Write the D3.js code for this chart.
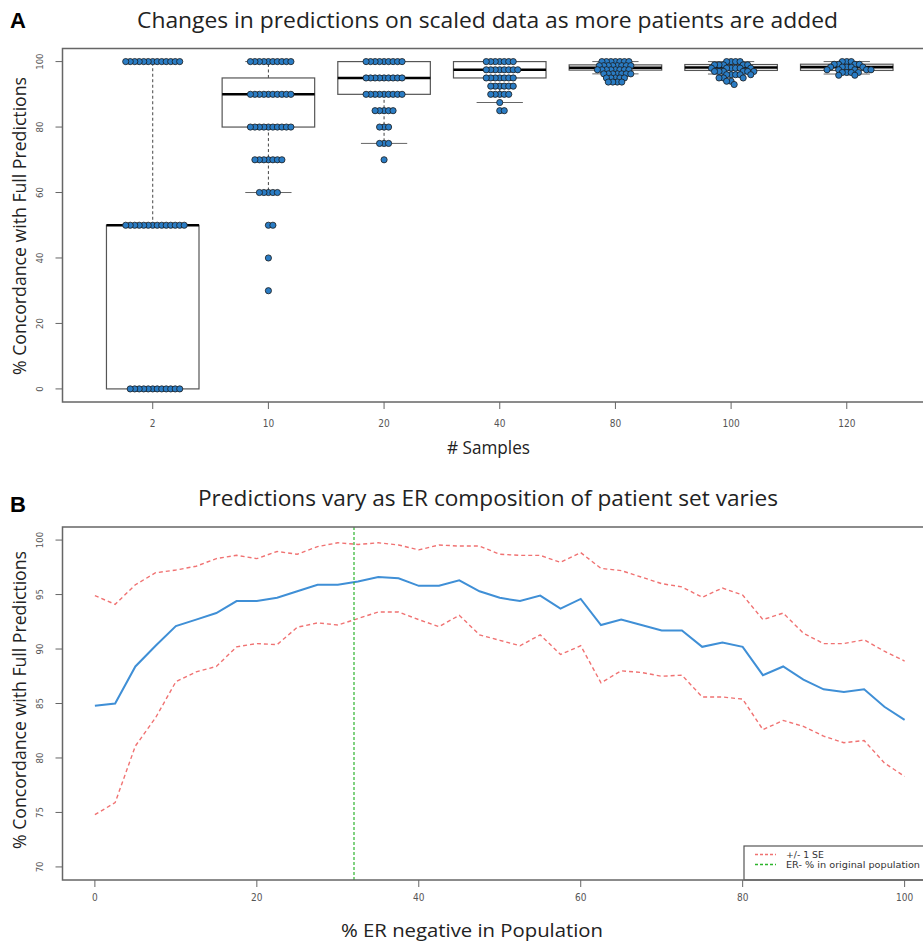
<!DOCTYPE html>
<html><head><meta charset="utf-8">
<script src="https://cdn.jsdelivr.net/npm/d3@7"></script>
<style>body{margin:0;background:#fff} svg{display:block}</style>
</head><body>
<svg id="c" width="923" height="941"></svg>
<script>
// ---------------- Panel A data ----------------
const sampleGroups = ["2","10","20","40","80","100","120"];
const boxLow    = [0, 60, 75, 87.5, 96.25, 96.2, 96.2];
const boxQ1     = [0, 80, 90, 95, 97.4, 97.3, 97.3];
const boxMedian = [50, 90, 95, 97.5, 98.1, 98.2, 98.3];
const boxQ3     = [50, 95, 100, 100, 99.0, 99.1, 99.2];
const boxHigh   = [100, 100, 100, 100, 100, 100, 100];
const dotValues = [
  [100, 50, 0],
  [100, 90, 80, 70, 60, 50, 40, 30],
  [100, 95, 90, 85, 80, 75, 70],
  [100, 97.5, 95, 92.5, 90, 87.5, 85],
  [100, 98.75, 97.5, 96.25, 95, 93.75],
  [100, 99, 98, 97, 96, 95, 94, 93],
  [100, 99.17, 98.33, 97.5, 96.67, 95.83]
];
const dotCounts = [
  [13, 14, 12],
  [10, 10, 10, 7, 5, 2, 1, 1],
  [9, 9, 9, 5, 3, 3, 1],
  [7, 8, 7, 6, 5, 1, 2],
  [7, 8, 8, 7, 5, 4],
  [4, 5, 6, 6, 5, 3, 2, 1],
  [3, 4, 5, 5, 4, 2]
];
const yTicksA = [0, 20, 40, 60, 80, 100];

// ---------------- Panel B data ----------------
const erNegative = [0,2.5,5,7.5,10,12.5,15,17.5,20,22.5,25,27.5,30,32.5,35,37.5,40,42.5,45,47.5,50,
  52.5,55,57.5,60,62.5,65,67.5,70,72.5,75,77.5,80,82.5,85,87.5,90,92.5,95,97.5,100];
const meanConc = [84.8,85.0,88.4,90.3,92.1,92.7,93.3,94.4,94.4,94.7,95.3,95.9,95.9,96.2,96.6,96.5,95.8,95.8,96.3,95.3,94.7,
  94.4,94.9,93.7,94.6,92.2,92.7,92.2,91.7,91.7,90.2,90.6,90.2,87.6,88.4,87.2,86.3,86.05,86.3,84.7,83.5];
const upperSE = [94.9,94.1,95.9,97.0,97.25,97.6,98.3,98.6,98.3,98.95,98.7,99.4,99.75,99.6,99.75,99.55,99.1,99.55,99.45,99.45,98.7,
  98.6,98.6,97.95,98.85,97.4,97.2,96.6,96.0,95.7,94.75,95.6,94.95,92.7,93.3,91.45,90.5,90.5,90.85,89.8,88.9];
const lowerSE = [74.8,75.9,81.1,83.7,87.0,87.9,88.4,90.2,90.5,90.4,92.0,92.4,92.2,92.8,93.4,93.4,92.7,92.05,93.1,91.3,90.8,
  90.3,91.3,89.5,90.3,86.9,88.0,87.85,87.5,87.6,85.6,85.6,85.4,82.6,83.45,82.9,82.0,81.4,81.6,79.55,78.3];
const erOriginal = 32;
const xTicksB = [0, 20, 40, 60, 80, 100];
const yTicksB = [70, 75, 80, 85, 90, 95, 100];
const legendLabels = ["+/- 1 SE", "ER- % in original population"];

// ---------------- drawing ----------------
const svg = d3.select("#c");
const titleFont = "'Open Sans', 'Noto Sans', sans-serif";
const tickFont = "'Liberation Sans Narrow', 'DejaVu Sans Condensed', 'Liberation Sans', sans-serif";
const frameColor = "#666";
const L = 62.5, R = 937;

function label(g, x, y, txt, size, len, rot) {
  const t = g.append("text")
    .attr("transform", rot ? `translate(${x},${y}) rotate(-90)` : `translate(${x},${y})`)
    .attr("text-anchor", "middle").attr("font-family", titleFont).attr("font-size", size)
    .attr("fill", "#222").text(txt);
  if (len) t.attr("textLength", len).attr("lengthAdjust", "spacingAndGlyphs");
  return t;
}

// ===== Panel A =====
const topA = 48.5, botA = 402;
const xA = d3.scalePoint().domain(sampleGroups).range([L, R]).padding(0.78);
const yA = d3.scaleLinear().domain([-4, 104]).range([botA, topA]);
const step = xA.step();
const bw = step * 0.8;

const gA = svg.append("g");
gA.append("text").attr("x", 10).attr("y", 28).text("A")
  .attr("font-family", "'Liberation Sans', Arial, sans-serif").attr("font-weight", "bold").attr("font-size", 22);
label(gA, 487.5, 28, "Changes in predictions on scaled data as more patients are added", 22, 701, false);

sampleGroups.forEach((g, i) => {
  const cx = xA(g);
  const grp = gA.append("g");
  if (boxHigh[i] > boxQ3[i]) grp.append("line").attr("x1", cx).attr("x2", cx)
    .attr("y1", yA(boxQ3[i])).attr("y2", yA(boxHigh[i])).attr("stroke", "#444").attr("stroke-dasharray", "3,2.5");
  if (boxLow[i] < boxQ1[i]) grp.append("line").attr("x1", cx).attr("x2", cx)
    .attr("y1", yA(boxQ1[i])).attr("y2", yA(boxLow[i])).attr("stroke", "#444").attr("stroke-dasharray", "3,2.5");
  [boxLow[i], boxHigh[i]].forEach(v => grp.append("line")
    .attr("x1", cx - bw / 4).attr("x2", cx + bw / 4).attr("y1", yA(v)).attr("y2", yA(v))
    .attr("stroke", "#666").attr("stroke-width", 1));
  grp.append("rect").attr("x", cx - bw / 2).attr("width", bw)
    .attr("y", yA(boxQ3[i])).attr("height", yA(boxQ1[i]) - yA(boxQ3[i]))
    .attr("fill", "#fff").attr("stroke", "#555").attr("stroke-width", 1.2);
  grp.append("line").attr("x1", cx - bw / 2).attr("x2", cx + bw / 2)
    .attr("y1", yA(boxMedian[i])).attr("y2", yA(boxMedian[i]))
    .attr("stroke", "#000").attr("stroke-width", 2.6);
});

function swarm(pts, d) {
  const placed = [];
  pts.forEach(p => {
    const cands = [0];
    placed.forEach(q => {
      const dy = p.py - q.py;
      if (Math.abs(dy) < d) { const dx = Math.sqrt(d * d - dy * dy); cands.push(q.dx + dx, q.dx - dx); }
    });
    cands.sort((a, b) => Math.abs(a) - Math.abs(b));
    for (const c of cands) {
      const ok = placed.every(q => (q.dx - c) ** 2 + (q.py - p.py) ** 2 >= d * d - 1e-6);
      if (ok) { p.dx = c; break; }
    }
    placed.push(p);
  });
  return placed;
}
sampleGroups.forEach((g, i) => {
  const pts = [];
  dotValues[i].forEach((v, j) => { for (let k = 0; k < dotCounts[i][j]; k++) pts.push({ v, py: yA(v) }); });
  pts.sort((a, b) => b.v - a.v);
  swarm(pts, 4.5);
  gA.append("g").selectAll("circle").data(pts).join("circle")
    .attr("cx", d => xA(g) + d.dx).attr("cy", d => d.py).attr("r", 3.1)
    .attr("fill", "#2a7cc4").attr("stroke", "#1b1b1b").attr("stroke-width", 0.8);
});

gA.append("rect").attr("x", L).attr("y", topA).attr("width", R - L).attr("height", botA - topA)
  .attr("fill", "none").attr("stroke", frameColor).attr("stroke-width", 1.5);
const yAx = gA.append("g");
yAx.selectAll("line").data(yTicksA).join("line")
  .attr("x1", L - 7).attr("x2", L).attr("y1", d => yA(d)).attr("y2", d => yA(d)).attr("stroke", frameColor);
yAx.selectAll("text").data(yTicksA).join("text")
  .attr("transform", d => `translate(43,${yA(d)}) rotate(-90)`).attr("text-anchor", "middle")
  .attr("font-family", tickFont).attr("font-size", 9.5).attr("fill", "#555").text(d => d);
const xAx = gA.append("g");
xAx.selectAll("line").data(sampleGroups).join("line")
  .attr("x1", d => xA(d)).attr("x2", d => xA(d)).attr("y1", botA).attr("y2", botA + 7).attr("stroke", frameColor);
xAx.selectAll("text").data(sampleGroups).join("text")
  .attr("x", d => xA(d)).attr("y", 427).attr("text-anchor", "middle")
  .attr("font-family", tickFont).attr("font-size", 10).attr("fill", "#555").text(d => d);
label(gA, 488.5, 454, "# Samples", 18, 83, false);
label(gA, 26, 226, "% Concordance with Full Predictions", 18, 298, true);

// ===== Panel B =====
const topB = 527, botB = 880;
const xB = d3.scaleLinear().domain([-4, 104]).range([L, R]);
const yB = d3.scaleLinear().domain([68.8, 101.2]).range([botB, topB]);
const gB = svg.append("g");
gB.append("text").attr("x", 10).attr("y", 512).text("B")
  .attr("font-family", "'Liberation Sans', Arial, sans-serif").attr("font-weight", "bold").attr("font-size", 22);
label(gB, 488, 506, "Predictions vary as ER composition of patient set varies", 22, 580, false);

const line = d3.line().x((d, i) => xB(erNegative[i])).y(d => yB(d));
gB.append("path").datum(upperSE).attr("d", line).attr("fill", "none")
  .attr("stroke", "#f07272").attr("stroke-width", 1.4).attr("stroke-dasharray", "4,3");
gB.append("path").datum(lowerSE).attr("d", line).attr("fill", "none")
  .attr("stroke", "#f07272").attr("stroke-width", 1.4).attr("stroke-dasharray", "4,3");
gB.append("path").datum(meanConc).attr("d", line).attr("fill", "none")
  .attr("stroke", "#3f8fd6").attr("stroke-width", 2);
gB.append("line").attr("x1", xB(erOriginal)).attr("x2", xB(erOriginal)).attr("y1", topB).attr("y2", botB)
  .attr("stroke", "#2cb52c").attr("stroke-width", 1.2).attr("stroke-dasharray", "3,2");

const lg = gB.append("g");
lg.append("rect").attr("x", 744).attr("y", 846).attr("width", 200).attr("height", botB - 846)
  .attr("fill", "#fff").attr("stroke", "#555").attr("stroke-width", 1.2);
const legColors = ["#f07272", "#2cb52c"];
legendLabels.forEach((t, i) => {
  const y = 854.5 + i * 10;
  lg.append("line").attr("x1", 755).attr("x2", 776).attr("y1", y).attr("y2", y)
    .attr("stroke", legColors[i]).attr("stroke-width", 1.3).attr("stroke-dasharray", "3,2");
  const tx = lg.append("text").attr("x", 786).attr("y", y + 3.3).attr("font-family", "'DejaVu Sans', sans-serif")
    .attr("font-size", 9.3).attr("fill", "#333").text(t);
  if (t.length > 20) tx.attr("textLength", 134).attr("lengthAdjust", "spacingAndGlyphs");
});

gB.append("rect").attr("x", L).attr("y", topB).attr("width", R - L).attr("height", botB - topB)
  .attr("fill", "none").attr("stroke", frameColor).attr("stroke-width", 1.5);
const yBx = gB.append("g");
yBx.selectAll("line").data(yTicksB).join("line")
  .attr("x1", L - 7).attr("x2", L).attr("y1", d => yB(d)).attr("y2", d => yB(d)).attr("stroke", frameColor);
yBx.selectAll("text").data(yTicksB).join("text")
  .attr("transform", d => `translate(43,${yB(d)}) rotate(-90)`).attr("text-anchor", "middle")
  .attr("font-family", tickFont).attr("font-size", 9.5).attr("fill", "#555").text(d => d);
const xBx = gB.append("g");
xBx.selectAll("line").data(xTicksB).join("line")
  .attr("x1", d => xB(d)).attr("x2", d => xB(d)).attr("y1", botB).attr("y2", botB + 7).attr("stroke", frameColor);
xBx.selectAll("text").data(xTicksB).join("text")
  .attr("x", d => xB(d)).attr("y", 901).attr("text-anchor", "middle")
  .attr("font-family", tickFont).attr("font-size", 10).attr("fill", "#555").text(d => d);
label(gB, 472, 937, "% ER negative in Population", 18, 262, false);
label(gB, 26, 700, "% Concordance with Full Predictions", 18, 298, true);
</script>
</body></html>
